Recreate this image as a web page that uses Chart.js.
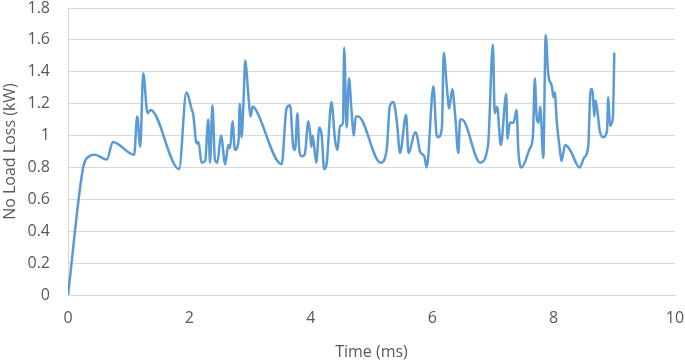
<!DOCTYPE html>
<html>
<head>
<meta charset="utf-8">
<script src="https://cdn.jsdelivr.net/npm/chart.js@4"></script>
<style>
    html, body { margin: 0; padding: 0; background: #fff; }
    #wrap { width: 685px; height: 363px; }
</style>
</head>
<body>
<div id="wrap"><canvas id="lossChart" width="685" height="363"></canvas></div>
<script>
// time in ms and no-load loss in kW
const timeMs = [
    0, 0.25, 0.35, 0.44, 0.64, 0.74, 1.09, 1.14, 1.19, 1.24, 1.31, 1.36,
    1.83, 1.95, 1.98, 2.04, 2.06, 2.12, 2.15, 2.20, 2.26, 2.31, 2.34, 2.38,
    2.42, 2.46, 2.52, 2.59, 2.64, 2.67, 2.71, 2.75, 2.81, 2.83, 2.86, 2.89,
    2.92, 2.94, 2.97, 3.01, 3.04, 3.08, 3.52, 3.60, 3.66, 3.71, 3.74, 3.78,
    3.81, 3.85, 3.90, 3.96, 3.99, 4.01, 4.03, 4.09, 4.14, 4.18, 4.22, 4.26,
    4.34, 4.40, 4.44, 4.48, 4.53, 4.55, 4.59, 4.63, 4.67, 4.71, 4.74, 4.78,
    5.15, 5.25, 5.30, 5.36, 5.42, 5.47, 5.57, 5.61, 5.72, 5.75, 5.80, 5.87,
    5.91, 6.02, 6.07, 6.10, 6.16, 6.19, 6.24, 6.28, 6.33, 6.38, 6.43, 6.46,
    6.49, 6.79, 6.92, 7.00, 7.03, 7.07, 7.13, 7.22, 7.24, 7.28, 7.34, 7.39,
    7.42, 7.47, 7.61, 7.66, 7.69, 7.72, 7.75, 7.78, 7.83, 7.87, 7.91, 7.97,
    8.00, 8.02, 8.05, 8.11, 8.13, 8.19, 8.27, 8.43, 8.50, 8.57, 8.61, 8.64,
    8.67, 8.69, 8.72, 8.76, 8.82, 8.88, 8.90, 8.93, 8.96, 8.98, 9.00
];
const lossKw = [
    0, 0.80, 0.87, 0.88, 0.85, 0.96, 0.88, 1.12, 0.93, 1.39, 1.14, 1.16,
    0.79, 1.27, 1.25, 1.16, 1.14, 0.95, 0.96, 0.83, 0.84, 1.10, 0.83, 1.19,
    0.85, 0.83, 1.00, 0.82, 0.94, 0.92, 1.09, 0.91, 0.97, 1.20, 0.99, 1.20,
    1.47, 1.41, 1.26, 1.12, 1.18, 1.17, 0.82, 1.17, 1.19, 0.93, 0.91, 1.14,
    0.91, 0.87, 0.88, 1.09, 1.01, 0.93, 1.00, 0.83, 1.05, 1.00, 0.79, 0.82,
    1.21, 0.97, 0.91, 1.06, 1.08, 1.55, 1.05, 1.36, 1.16, 1.00, 1.12, 1.12,
    0.83, 0.91, 1.18, 1.21, 1.08, 0.89, 1.13, 0.89, 1.02, 1.00, 0.90, 0.87,
    0.80, 1.31, 1.01, 0.99, 1.05, 1.52, 1.31, 1.17, 1.29, 1.12, 0.89, 1.10,
    1.10, 0.83, 0.94, 1.57, 1.14, 1.18, 0.94, 1.26, 0.98, 1.08, 1.08, 1.16,
    0.90, 0.80, 0.92, 1.00, 1.36, 1.12, 1.08, 1.18, 0.86, 1.63, 1.39, 1.31,
    1.24, 1.27, 1.10, 0.89, 0.84, 0.94, 0.91, 0.80, 0.86, 0.93, 1.29, 1.29,
    1.12, 1.22, 1.16, 1.03, 0.99, 1.03, 1.24, 1.06, 1.08, 1.14, 1.52
];
const xTicks = [0, 2, 4, 6, 8, 10];
const yTicks = [0, 0.2, 0.4, 0.6, 0.8, 1, 1.2, 1.4, 1.6, 1.8];

const textColor = "#595959";
const gridColor = "#d9d9d9";
const fontFamily = "'Open Sans', 'Liberation Sans', sans-serif";

const points = timeMs.map((t, i) => ({ x: t, y: lossKw[i] }));

new Chart(document.getElementById("lossChart"), {
    type: "line",
    data: {
        datasets: [
            {
                label: "No Load Loss",
                data: points,
                borderColor: "#5b9bd5",
                borderWidth: 2.5,
                pointRadius: 0,
                fill: false,
                cubicInterpolationMode: "monotone",
            },
        ],
    },
    options: {
        responsive: false,
        animation: false,
        layout: {
            padding: { top: 8, right: 10, left: 0, bottom: 0 },
        },
        plugins: {
            legend: { display: false },
            tooltip: { enabled: false },
        },
        scales: {
            x: {
                type: "linear",
                min: 0,
                max: 10,
                afterBuildTicks: (scale) => {
                    scale.ticks = xTicks.map((v) => ({ value: v }));
                },
                afterFit: (scale) => {
                    scale.height = 68;
                    scale.paddingLeft = 0;
                    scale.paddingRight = 0;
                },
                ticks: {
                    color: textColor,
                    font: { family: fontFamily, size: 16 },
                    padding: 14,
                    maxRotation: 0,
                },
                grid: { display: false, drawTicks: false },
                border: { display: true, color: gridColor, width: 1 },
                title: {
                    display: true,
                    text: "Time (ms)",
                    color: textColor,
                    font: { family: fontFamily, size: 16 },
                    padding: { top: 0, bottom: 1 },
                },
            },
            y: {
                type: "linear",
                min: 0,
                max: 1.8,
                afterBuildTicks: (scale) => {
                    scale.ticks = yTicks.map((v) => ({ value: v }));
                },
                afterFit: (scale) => {
                    scale.width = 68;
                    scale.paddingTop = 0;
                    scale.paddingBottom = 0;
                },
                ticks: {
                    color: textColor,
                    font: { family: fontFamily, size: 16 },
                    padding: 18,
                    callback: (v) => String(Math.round(v * 10) / 10),
                },
                grid: { color: gridColor, drawTicks: false, lineWidth: 1 },
                border: { display: true, color: gridColor, width: 1 },
                title: {
                    display: true,
                    text: "No Load Loss (kW)",
                    color: textColor,
                    font: { family: fontFamily, size: 16 },
                    padding: { top: 1, bottom: 0 },
                },
            },
        },
    },
});
</script>
</body>
</html>
